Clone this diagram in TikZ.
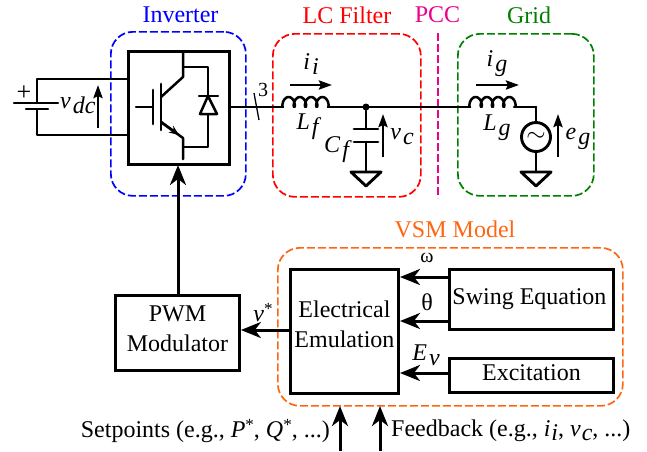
\documentclass[tikz,border=0pt]{standalone}
\usepackage{fontspec}
\setmainfont{Liberation Serif}
\usetikzlibrary{arrows.meta}
\definecolor{vsmorange}{RGB}{255,102,17}
\definecolor{gridgreen}{RGB}{0,128,0}
\newcommand{\svar}[2]{\textit{#1}\kern2pt\raisebox{-5pt}{\textit{#2}}}
\newcommand{\tvar}[2]{\textit{#1}\kern1pt\raisebox{-4pt}{\textit{#2}}}
\newcommand{\supstar}[1]{\textit{#1}\raisebox{7pt}{\fontsize{17}{17}\selectfont *}}
\tikzset{
  x=1pt,y=-1pt,
  every node/.style={font=\fontsize{24}{30}\selectfont,inner sep=0pt},
  wire/.style={line width=2.5pt,line cap=round,line join=round},
  block/.style={draw,line width=2.9pt,align=center,anchor=north west},
  zone/.style={draw,line width=1.7pt,rounded corners=22pt,dash pattern=on 8pt off 3pt,anchor=north west},
  flow/.style={wire,line width=3pt,line cap=butt,-{Stealth[length=20pt,width=16pt,inset=6pt]}},
  meas/.style={wire,line width=2.7pt,line cap=butt,-{Stealth[length=13pt,width=9pt,inset=2pt]}},
  junction/.style={circle,fill,minimum size=7pt},
}
\newcommand{\coilat}[1]{\draw[wire,shift={(#1)}] plot[smooth,samples=81,domain=0:1440] ({\x/32-2.8*sin(\x)},{-5*(1-cos(\x))});}
\newcommand{\groundat}[1]{\draw[wire,line width=2.9pt,shift={(#1)}] (-15,0) -- (15,0) -- (0,14) -- cycle;}
\begin{document}
\begin{tikzpicture}
\useasboundingbox (0,0) rectangle (647,451);
% zones
\node[zone,draw=blue,minimum width=135pt,minimum height=164pt] (inv) at (110,31) {};
\node[zone,draw=red,minimum width=148pt,minimum height=163pt] (lc) at (272,33) {};
\node[zone,draw=gridgreen,minimum width=136pt,minimum height=162pt] (grid) at (457,33) {};
\node[zone,draw=vsmorange,minimum width=345pt,minimum height=158pt] (vsm) at (277,247) {};
% zone titles
\node[text=blue] (tinv) at (180.5,15) {Inverter};
\node[text=red] (tlc) at (347,15) {LC Filter};
\node[text=magenta] (tpcc) at (437.5,15) {PCC};
\node[text=gridgreen] (tgrid) at (529,15) {Grid};
\node[text=vsmorange] (tvsm) at (455,229) {VSM Model};
% PCC line
\coordinate (pcca) at (438,33);
\coordinate (pccb) at (438,198);
\draw[magenta,line width=1.7pt,dash pattern=on 8pt off 3pt] (pcca) -- (pccb);
% blocks
\node[block,minimum width=101pt,minimum height=113pt] (igbt) at (127,50) {};
\node[block,minimum width=124pt,minimum height=75pt,text depth=8pt] (pwm) at (114,294) {PWM\\Modulator};
\node[block,minimum width=108pt,minimum height=124pt,text depth=15pt] (elec) at (289,268) {Electrical\\Emulation};
\node[block,minimum width=164pt,minimum height=60pt] (swing) at (448,268) {\kern-4pt Swing Equation};
\node[block,minimum width=164pt,minimum height=34pt,text depth=5pt] (exc) at (448,357) {Excitation};
% DC side
\coordinate (dctop) at (37,79);
\coordinate (dcbot) at (37,135);
\coordinate (platea) at (37,103);
\coordinate (plateb) at (37,109);
\draw[wire] (igbt.west |- dctop) -- (dctop) -- (platea);
\draw[wire] (igbt.west |- dcbot) -- (dcbot) -- (plateb);
\draw[wire] (14,103) -- (58,103);
\draw[wire] (26,109) -- (48,109);
\node (plus) at (24,93) {\fontsize{26}{26}\selectfont +};
\node[anchor=west] (vdc) at (60,105) {\svar{v}{dc}};
\coordinate (vdca) at (98,128);
\coordinate (vdcb) at (98,85);
\draw[meas] (vdca) -- (vdcb);
% IGBT symbol
\draw[wire] (136,107) -- (153,107);
\draw[wire,line width=2.9pt] (153,90) -- (153,124);
\draw[wire,line width=2.9pt] (161,84) -- (161,130);
\draw[wire] (183,53) -- (183,77) -- (161,97);
\draw[wire] (183,159) -- (183,138) -- (161,122);
\draw[wire,-{Stealth[length=10pt,width=8pt]}] (161,122) -- (179,135);
\draw[wire] (183,67) -- (208,67) -- (208,96);
\draw[wire] (199,96) -- (218,96);
\draw[wire] (208,96) -- (200,114) -- (217,114) -- cycle;
\draw[wire] (208,114) -- (208,147) -- (183,147);
% main line
\coordinate (lfa) at (283,107);
\coordinate (lfb) at (328,107);
\coordinate (lga) at (470,107);
\coordinate (lgb) at (514,107);
\coordinate (srctop) at (536,107);
\draw[wire] (igbt.east |- lfa) -- (lfa);
\draw[line width=1.3pt] (254,93) -- (259,120);
\node[font=\fontsize{20}{20}\selectfont] (three) at (263,90) {3};
\coilat{lfa}
\draw[wire] (lfb) -- (lga);
\coilat{lga}
\draw[wire] (lgb) -- (srctop);
\node[junction] (pc) at (366,107) {};
% capacitor
\coordinate (capa) at (366,129);
\coordinate (capb) at (366,142);
\coordinate (gnda) at (366,172);
\draw[wire] (pc) -- (capa);
\draw[wire] (capb) -- (gnda);
\draw[wire,line width=2.9pt] (354,129) -- (378,129);
\draw[wire,line width=2.9pt] (354,142) -- (378,142);
\groundat{gnda}
% source
\node[draw,circle,line width=2.9pt,minimum size=29pt] (src) at (536,137) {\fontsize{26}{26}\selectfont$\sim$};
\coordinate (gndb) at (536,172);
\draw[wire] (srctop) -- (src);
\draw[wire] (src) -- (gndb);
\groundat{gndb}
% measurement arrows
\coordinate (iia) at (290,85); \coordinate (iib) at (332,85);
\coordinate (iga) at (476,85); \coordinate (igb) at (519,85);
\coordinate (vca) at (383,157); \coordinate (vcb) at (383,114);
\coordinate (ega) at (558,157); \coordinate (egb) at (558,114);
\draw[meas] (iia) -- (iib);
\draw[meas] (iga) -- (igb);
\draw[meas] (vca) -- (vcb);
\draw[meas] (ega) -- (egb);
\node (li) at (311,64) {\svar{i}{i}};
\node (lg) at (497,64) {\svar{i}{g}};
\node (llf) at (309,127) {\svar{L}{f}};
\node (llg) at (497,128) {\svar{L}{g}};
\node (lcf) at (338,150) {\svar{C}{f}};
\node (lvc) at (402,137) {\svar{v}{c}};
\node (leg) at (578,139) {\svar{e}{g}};
% control arrows
\draw[flow] (pwm.north -| 178,0) -- (178,165);
\draw[flow] (elec.west |- 0,330) -- (pwm.east |- 0,330);
\draw[flow] (swing.west |- 0,277) -- (400,277);
\draw[flow] (swing.west |- 0,321) -- (400,321);
\draw[flow] (exc.west |- 0,373) -- (400,373);
\node[font=\fontsize{20}{20}\selectfont] (lw) at (427,258) {ω};
\node (lt) at (427,302) {θ};
\node (le) at (426,355) {\svar{E}{v}};
\node (lv) at (263,313) {\supstar{v}};
\coordinate (spa) at (340,451); \coordinate (spb) at (340,406);
\coordinate (fba) at (380,451); \coordinate (fbb) at (380,406);
\draw[flow] (spa) -- (spb);
\draw[flow] (fba) -- (fbb);
\node[anchor=east] (lsp) at (330,431) {Setpoints (e.g., \supstar{P}, \supstar{Q}, ...)};
\node[anchor=west] (lfb2) at (391,431) {Feedback (e.g., \tvar{i}{i}, \tvar{v}{c}, ...)};
\end{tikzpicture}
\end{document}
